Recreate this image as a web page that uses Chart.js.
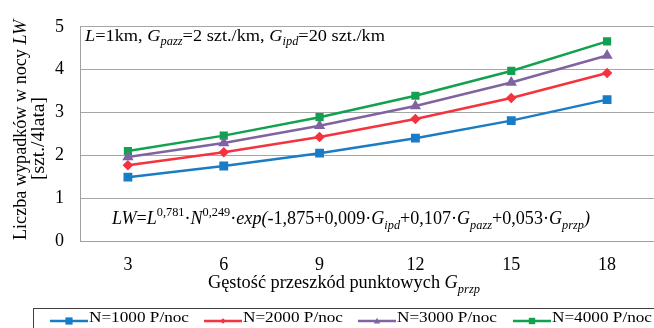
<!DOCTYPE html>
<html><head><meta charset="utf-8">
<script src="https://cdn.jsdelivr.net/npm/chart.js@4"></script>
<style>html,body{margin:0;padding:0;overflow:hidden;background:#fff}#wrap{width:662px;height:328px}</style>
</head><body><div id="wrap"><canvas id="c" width="662" height="328"></canvas></div>
<script>
const categories = ['3','6','9','12','15','18'];
const n1000 = [1.49, 1.75, 2.05, 2.40, 2.81, 3.30];
const n2000 = [1.77, 2.07, 2.43, 2.85, 3.34, 3.92];
const n3000 = [1.96, 2.29, 2.69, 3.15, 3.70, 4.33];
const n4000 = [2.10, 2.46, 2.89, 3.39, 3.97, 4.66];
const seriesLabels = ['N=1000 P/noc','N=2000 P/noc','N=3000 P/noc','N=4000 P/noc'];
const yTicks = [0,1,2,3,4,5];

const FONT = '"Liberation Serif", "Times New Roman", serif';
const colors = ['#1a7cc4','#f5333f','#8064a2','#12a150'];
const styles = ['rect','rectRot','triangle','rect'];
const radii = [4.5,3.5,4,4];

function segFont(s, size){
  const fs = (s.sub||s.sup) ? size*0.68 : size;
  return (s.it?'italic ':'') + fs + 'px ' + FONT;
}
function rich(ctx, segs, x, y, size, targetW){
  let nat = 0;
  for (const s of segs){ ctx.font = segFont(s,size); nat += ctx.measureText(s.t).width; }
  const k = targetW ? targetW/nat : 1;
  ctx.save();
  ctx.translate(x, y);
  ctx.scale(k, 1);
  let cx = 0;
  for (const s of segs){
    ctx.font = segFont(s,size);
    const dy = s.sub ? size*0.25 : (s.sup ? -size*0.42 : 0);
    ctx.fillText(s.t, cx, dy);
    cx += ctx.measureText(s.t).width;
  }
  ctx.restore();
}

const annot = {
  id:'annot',
  afterDraw(chart){
    const ctx = chart.ctx;
    ctx.save();
    ctx.fillStyle = '#000';
    ctx.textBaseline = 'alphabetic';
    ctx.textAlign = 'left';
    rich(ctx, [
      {t:'L',it:1},{t:'=1km, '},{t:'G',it:1},{t:'pazz',it:1,sub:1},{t:'=2 szt./km, '},
      {t:'G',it:1},{t:'ipd',it:1,sub:1},{t:'=20 szt./km'}], 85, 41, 17.5, 300);
    rich(ctx, [
      {t:'LW',it:1},{t:'='},{t:'L',it:1},{t:'0,781',sup:1},{t:'·'},{t:'N',it:1},{t:'0,249',sup:1},{t:'·'},
      {t:'exp(',it:1},{t:'-1,875+0,009·'},{t:'G',it:1},{t:'ipd',it:1,sub:1},{t:'+0,107·'},
      {t:'G',it:1},{t:'pazz',it:1,sub:1},{t:'+0,053·'},{t:'G',it:1},{t:'przp',it:1,sub:1},{t:')',it:1}], 112, 224, 18, 478);
    // x title
    rich(ctx, [{t:'Gęstość przeszkód punktowych '},{t:'G',it:1},{t:'przp',it:1,sub:1}], 208, 288, 18, 272);
    // y title
    ctx.save();
    ctx.translate(26, 240);
    ctx.rotate(-Math.PI/2);
    rich(ctx, [{t:'Liczba wypadków w nocy '},{t:'LW',it:1}], 0, 0, 18, 220);
    ctx.restore();
    ctx.save();
    ctx.translate(44, 180);
    ctx.rotate(-Math.PI/2);
    rich(ctx, [{t:'[szt./4lata]'}], 0, 0, 18, 83);
    ctx.restore();
    // legend
    ctx.strokeStyle = '#404040';
    ctx.lineWidth = 1;
    ctx.strokeRect(33.5, 308.5, 700, 40);
    const lx = [50, 204, 358, 513];
    chart.data.datasets.forEach((ds,i)=>{
      const x0 = lx[i], y0 = 321;
      ctx.strokeStyle = ds.borderColor; ctx.lineWidth = 2.5;
      ctx.beginPath(); ctx.moveTo(x0, y0); ctx.lineTo(x0+38, y0); ctx.stroke();
      ctx.fillStyle = ds.borderColor;
      ctx.beginPath();
      const r = ds.pointRadius*0.8, cx = x0+19;
      if (ds.pointStyle==='rect'){ ctx.rect(cx-r, y0-r, 2*r, 2*r); }
      else if (ds.pointStyle==='rectRot'){ ctx.moveTo(cx, y0-r); ctx.lineTo(cx+r,y0); ctx.lineTo(cx,y0+r); ctx.lineTo(cx-r,y0); ctx.closePath(); }
      else { ctx.moveTo(cx, y0-r); ctx.lineTo(cx+r,y0+r*0.8); ctx.lineTo(cx-r,y0+r*0.8); ctx.closePath(); }
      ctx.fill();
      ctx.fillStyle = '#000';
      rich(ctx, [{t:seriesLabels[i]}], x0+39, 322, 15, 100);
    });
    ctx.restore();
  }
};

const data = [n1000,n2000,n3000,n4000];
new Chart(document.getElementById('c'), {
  type:'line',
  data:{
    labels: categories,
    datasets: data.map((d,i)=>({
      label: seriesLabels[i], data: d,
      borderColor: colors[i], backgroundColor: colors[i],
      pointBackgroundColor: colors[i], pointBorderColor: colors[i],
      pointStyle: styles[i], pointRadius: radii[i], borderWidth: 2.5, tension: 0
    }))
  },
  options:{
    responsive:false, animation:false,
    layout:{padding:{left:0,right:4,top:18,bottom:0}},
    plugins:{legend:{display:false}, tooltip:{enabled:false}},
    scales:{
      x:{
        offset:true,
        grid:{display:false, drawTicks:false},
        border:{display:true, color:'#a0a0a0'},
        ticks:{font:{family:FONT,size:18}, color:'#000', padding:13, maxRotation:0},
        afterFit(s){ s.height = 328-241; }
      },
      y:{
        min:0, max:5,
        afterBuildTicks(s){ s.ticks = yTicks.map(v=>({value:v})); },
        grid:{color:'#a6a6a6', drawTicks:false},
        border:{display:true, color:'#a0a0a0'},
        ticks:{font:{family:FONT,size:18}, color:'#000', padding:16},
        afterFit(s){ s.width = 80; }
      }
    }
  },
  plugins:[annot]
});
</script></body></html>
